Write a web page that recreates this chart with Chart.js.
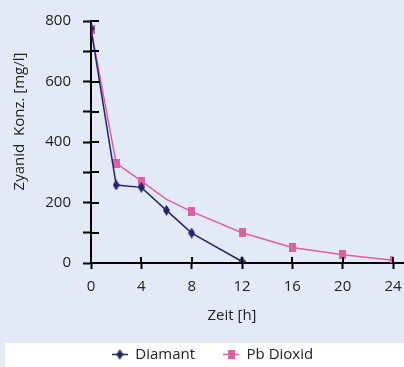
<!DOCTYPE html>
<html>
<head>
<meta charset="utf-8">
<script src="https://cdn.jsdelivr.net/npm/chart.js@4/dist/chart.umd.min.js"></script>
<style>
  html, body { margin: 0; padding: 0; background: #e3eaf7; }
  #wrap { width: 404px; height: 367px; position: relative; }
</style>
</head>
<body>
<div id="wrap"><canvas id="c" width="404" height="367"></canvas></div>
<script>
// ---- data ----
const seriesNames = ["Diamant", "Pb Dioxid"];
const diamantHours = [0, 2, 4, 6, 8, 12];
const diamantValues = [775, 258, 250, 174, 99, 5];
const pbHours = [0, 2, 4, 6, 8, 12, 16, 20, 24];
const pbValues = [773, 330, 271, 210, 170, 100, 51, 27, 9];
const pbMarkerShown = [1, 1, 1, 0, 1, 1, 1, 1, 1];
const xTickLabels = ["0", "4", "8", "12", "16", "20", "24"];
const yTickLabels = ["0", "200", "400", "600", "800"];
const xTitle = "Zeit [h]";
const yTitle = "Zyanid  Konz. [mg/l]";

// ---- styles ----
const NAVY = "#26256c";
const PINK = "#df5fa0";
const TEXT = "#222222";
const FONT = "'Open Sans', 'Noto Sans', sans-serif";

function makeDiamond(color) {
  const c = document.createElement("canvas");
  c.width = 7; c.height = 11;
  const g = c.getContext("2d");
  g.fillStyle = color;
  g.beginPath();
  g.moveTo(3.5, 0); g.lineTo(7, 5.5); g.lineTo(3.5, 11); g.lineTo(0, 5.5);
  g.closePath(); g.fill();
  return c;
}
function makeSquare(color) {
  const c = document.createElement("canvas");
  c.width = 7; c.height = 9;
  const g = c.getContext("2d");
  g.fillStyle = color;
  g.fillRect(0, 0, 7, 9);
  return c;
}
function makeLegendIcon(color, marker) {
  const c = document.createElement("canvas");
  c.width = 16; c.height = 11;
  const g = c.getContext("2d");
  g.strokeStyle = color; g.lineWidth = 1.5;
  g.beginPath(); g.moveTo(0, 5.5); g.lineTo(16, 5.5); g.stroke();
  g.drawImage(marker, 8 - marker.width / 2, 5.5 - marker.height / 2);
  return c;
}
const diamondImg = makeDiamond(NAVY);
const squareImg = makeSquare(PINK);
const legendIcons = [makeLegendIcon(NAVY, makeDiamond(NAVY)), makeLegendIcon(PINK, makeSquare(PINK))];

const diamantData = diamantHours.map((h, i) => ({ x: h, y: diamantValues[i] }));
const pbData = pbHours.map((h, i) => ({ x: h, y: pbValues[i] }));

// plugin: white legend band, inward tick halves, axis extension, axis titles
const decor = {
  id: "decor",
  beforeDraw(chart) {
    const ctx = chart.ctx;
    ctx.save();
    ctx.fillStyle = "#e3eaf7";
    ctx.fillRect(0, 0, chart.width, chart.height);
    ctx.fillStyle = "#ffffff";
    ctx.fillRect(5, 343, chart.width - 5, chart.height - 343);
    ctx.restore();
  },
  afterDatasetsDraw(chart) {
    const ctx = chart.ctx;
    const xs = chart.scales.x, ys = chart.scales.y;
    const a = chart.chartArea;
    ctx.save();
    ctx.strokeStyle = "#000";
    ctx.lineWidth = 2;
    ctx.beginPath();
    ys.ticks.forEach((t, i) => {
      const py = Math.round(ys.getPixelForTick(i));
      ctx.moveTo(a.left, py); ctx.lineTo(a.left + 8, py);
    });
    xs.ticks.forEach((t, i) => {
      const px = Math.round(xs.getPixelForTick(i));
      ctx.moveTo(px, a.bottom); ctx.lineTo(px, a.bottom - 6);
    });
    ctx.moveTo(a.right, a.bottom); ctx.lineTo(chart.width, a.bottom);
    ctx.stroke();
    ctx.restore();
  },
  afterDraw(chart) {
    const ctx = chart.ctx;
    ctx.save();
    ctx.fillStyle = TEXT;
    ctx.font = "15px " + FONT;
    ctx.textAlign = "center";
    ctx.textBaseline = "middle";
    ctx.fillText(xTitle, 232, 316);
    ctx.translate(20, 121.5);
    ctx.rotate(-Math.PI / 2);
    ctx.fillText(yTitle, 0, 0);
    ctx.restore();
  }
};

new Chart(document.getElementById("c"), {
  type: "scatter",
  data: {
    datasets: [
      {
        label: seriesNames[0],
        data: diamantData,
        showLine: true,
        borderColor: NAVY,
        backgroundColor: NAVY,
        borderWidth: 1.5,
        pointStyle: diamondImg,
        pointRadius: 5,
        tension: 0,
        order: 1
      },
      {
        label: seriesNames[1],
        data: pbData,
        showLine: true,
        borderColor: PINK,
        backgroundColor: PINK,
        borderWidth: 1.5,
        pointStyle: pbMarkerShown.map(s => s ? squareImg : false),
        pointRadius: pbMarkerShown.map(s => s ? 5 : 0),
        tension: 0,
        order: 2
      }
    ]
  },
  options: {
    responsive: false,
    animation: false,
    layout: { padding: { top: 20, right: 11, left: 32, bottom: -5 } },
    plugins: {
      tooltip: { enabled: false },
      legend: {
        position: "bottom",
        labels: {
          usePointStyle: true,
          pointStyleWidth: 16,
          padding: 28,
          color: TEXT,
          font: { family: FONT, size: 15 },
          generateLabels(chart) {
            const items = Chart.defaults.plugins.legend.labels.generateLabels(chart);
            items.forEach((it, i) => { it.pointStyle = legendIcons[i]; });
            return items;
          }
        }
      }
    },
    scales: {
      x: {
        type: "linear",
        min: 0, max: 24,
        afterFit(s) { s.height = 56; s.paddingLeft = 5; s.paddingRight = 8; },
        border: { color: "#000", width: 2 },
        grid: { drawOnChartArea: false, tickLength: 6, tickWidth: 2, tickColor: "#000" },
        ticks: {
          stepSize: 4,
          padding: 9,
          color: TEXT,
          font: { family: FONT, size: 15 },
          callback: (v) => xTickLabels.includes(String(v)) ? String(v) : ""
        }
      },
      y: {
        type: "linear",
        min: 0, max: 800,
        afterFit(s) { s.width = 59; },
        border: { color: "#000", width: 2 },
        grid: { drawOnChartArea: false, tickLength: 8, tickWidth: 2, tickColor: "#000" },
        ticks: {
          stepSize: 100,
          padding: 12,
          color: TEXT,
          font: { family: FONT, size: 15 },
          callback: (v) => yTickLabels.includes(String(v)) ? String(v) : ""
        }
      }
    }
  },
  plugins: [decor]
});
</script>
</body>
</html>
